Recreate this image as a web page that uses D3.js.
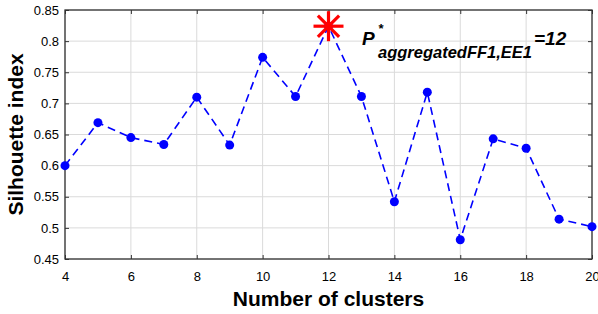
<!DOCTYPE html>
<html lang="en">
<head>
<meta charset="utf-8">
<title>Silhouette index</title>
<script src="https://d3js.org/d3.v7.min.js"></script>
<style>
  body { margin: 0; background: #fff; }
  text { font-family: "Liberation Sans", Arial, sans-serif; }
</style>
</head>
<body>
<div id="graph"></div>
<script>
// data
var clusters = [4, 5, 6, 7, 8, 9, 10, 11, 12, 13, 14, 15, 16, 17, 18, 19, 20];
var silhouette = [0.600, 0.669, 0.645, 0.634, 0.710, 0.633, 0.774, 0.711, 0.824, 0.711, 0.542, 0.718, 0.481, 0.643, 0.628, 0.514, 0.502];
var bestK = 12;
var xTicks = [4, 6, 8, 10, 12, 14, 16, 18, 20];
var yTicks = [0.45, 0.5, 0.55, 0.6, 0.65, 0.7, 0.75, 0.8, 0.85];

var W = 598, H = 314;
var margin = {top: 10, right: 6, bottom: 55, left: 65};

var svg = d3.select("#graph").append("svg")
    .attr("width", W).attr("height", H);

var x = d3.scaleLinear().domain([4, 20]).range([margin.left, W - margin.right]);
var y = d3.scaleLinear().domain([0.45, 0.85]).range([H - margin.bottom, margin.top]);

// grid
svg.append("g").selectAll("line.gx").data(xTicks).enter().append("line")
    .attr("x1", d => x(d)).attr("x2", d => x(d))
    .attr("y1", y(0.45)).attr("y2", y(0.85))
    .attr("stroke", "#dadada").attr("stroke-width", 1);
svg.append("g").selectAll("line.gy").data(yTicks).enter().append("line")
    .attr("x1", x(4)).attr("x2", x(20))
    .attr("y1", d => y(d)).attr("y2", d => y(d))
    .attr("stroke", "#dadada").attr("stroke-width", 1);

// axes with inward ticks
function styleAxis(g) {
  g.select(".domain").remove();
  g.selectAll(".tick line").attr("stroke", "#333");
  g.selectAll(".tick text").attr("fill", "#000").style("font-size", "13px")
    .style("font-family", "'Liberation Sans', Arial, sans-serif");
}
svg.append("g").attr("transform", "translate(0," + y(0.45) + ")")
  .call(d3.axisBottom(x).tickValues(xTicks).tickSizeInner(-4).tickSizeOuter(0).tickPadding(13))
  .call(styleAxis);
svg.append("g").attr("transform", "translate(0," + y(0.85) + ")")
  .call(d3.axisTop(x).tickValues(xTicks).tickSizeInner(-4).tickSizeOuter(0).tickFormat(""))
  .call(styleAxis);
svg.append("g").attr("transform", "translate(" + x(4) + ",0)")
  .call(d3.axisLeft(y).tickValues(yTicks).tickSizeInner(-4).tickSizeOuter(0).tickPadding(6).tickFormat(d3.format("~g")))
  .call(styleAxis);
svg.append("g").attr("transform", "translate(" + x(20) + ",0)")
  .call(d3.axisRight(y).tickValues(yTicks).tickSizeInner(-4).tickSizeOuter(0).tickFormat(""))
  .call(styleAxis);

// box
svg.append("rect")
    .attr("x", x(4)).attr("y", y(0.85))
    .attr("width", x(20) - x(4)).attr("height", y(0.45) - y(0.85))
    .attr("fill", "none").attr("stroke", "#333").attr("stroke-width", 1.3);

// line + points
var pts = clusters.map((c, i) => ({k: c, v: silhouette[i]}));
svg.append("path").datum(pts)
    .attr("d", d3.line().x(d => x(d.k)).y(d => y(d.v)))
    .attr("fill", "none").attr("stroke", "#0000ff")
    .attr("stroke-width", 1.6).attr("stroke-dasharray", "8,5");
svg.append("g").selectAll("circle").data(pts).enter().append("circle")
    .attr("cx", d => x(d.k)).attr("cy", d => y(d.v)).attr("r", 4.5)
    .attr("fill", "#0000ff");

// red asterisk at the best cluster count
var best = pts.find(d => d.k === bestK);
var star = svg.append("g").attr("transform", "translate(" + x(best.k) + "," + y(best.v) + ")");
[0, 45, 90, 135].forEach(function(a) {
  var r = 15, t = a * Math.PI / 180;
  star.append("line")
    .attr("x1", -r * Math.cos(t)).attr("y1", -r * Math.sin(t))
    .attr("x2", r * Math.cos(t)).attr("y2", r * Math.sin(t))
    .attr("stroke", "#ff0000").attr("stroke-width", 3.2);
});

// annotation
var ann = svg.append("g").style("font-weight", "bold").style("font-style", "italic");
ann.append("text").attr("x", 362).attr("y", 45).style("font-size", "19px").text("P");
ann.append("text").attr("x", 378).attr("y", 33).style("font-size", "13px").text("*");
ann.append("text").attr("x", 378).attr("y", 58).style("font-size", "16.5px").text("aggregatedFF1,EE1");
ann.append("text").attr("x", 534).attr("y", 45).style("font-size", "19px").text("=12");

// axis titles
svg.append("text").attr("x", (x(4) + x(20)) / 2).attr("y", 306)
    .attr("text-anchor", "middle").style("font-size", "21px").style("font-weight", "bold")
    .text("Number of clusters");
svg.append("text")
    .attr("transform", "translate(23," + (y(0.45) + y(0.85)) / 2 + ") rotate(-90)")
    .attr("text-anchor", "middle").style("font-size", "21px").style("font-weight", "bold")
    .text("Silhouette index");
</script>
</body>
</html>
